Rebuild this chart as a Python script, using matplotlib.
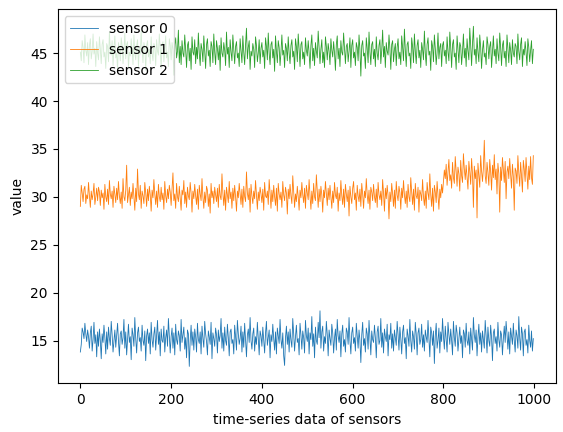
import numpy as np
import matplotlib
matplotlib.use("Agg")
import matplotlib.pyplot as plt

# sensor readings, one sample every 2 time steps
sensor0 = [
    13.8,14.6,16.3,15.9,15.2,16.8,15.7,14.9,16.1,15.4,14.2,15.8,16.5,13.9,15.1,16.9,14.7,15.6,13.3,15.9,14.4,16.2,15.0,13.1,15.7,
    14.8,16.6,15.3,13.6,15.9,14.1,16.4,15.2,14.5,17.0,15.6,13.8,15.0,16.1,14.3,15.5,16.8,14.9,13.4,15.7,16.0,14.6,15.3,17.2,14.2,
    15.9,13.5,15.1,16.7,14.8,15.4,13.0,16.3,15.6,14.4,17.4,15.2,13.7,15.8,16.4,14.9,15.3,13.9,16.6,15.0,14.5,16.0,12.9,15.5,16.2,
    14.7,15.8,13.6,16.9,15.1,14.3,15.7,16.4,14.0,15.5,17.1,14.6,15.9,13.4,16.2,15.0,14.8,16.5,13.8,15.3,16.1,14.4,17.3,15.6,13.7,
    15.4,16.3,14.2,15.8,13.5,16.7,15.1,14.6,16.0,15.5,13.9,17.2,14.8,15.6,16.4,14.1,15.3,13.2,16.1,15.7,12.3,15.0,16.6,14.5,15.9,
    14.0,16.2,15.4,13.8,16.8,15.1,14.7,15.9,13.6,16.5,15.2,14.3,17.0,15.7,14.9,13.5,16.0,15.4,14.6,16.9,13.1,15.8,15.2,14.4,16.3,
    15.6,13.7,16.1,14.9,15.5,17.3,14.2,15.8,13.9,16.4,15.0,14.5,16.7,15.3,13.4,15.9,16.2,14.7,15.1,13.6,16.6,15.4,14.0,17.1,15.7,
    14.6,15.2,16.5,13.8,15.9,14.3,16.8,15.1,13.3,15.6,16.2,14.8,17.4,15.0,14.1,15.7,16.3,13.9,15.4,14.6,16.9,15.2,13.5,16.0,15.5,
    14.4,16.4,15.0,13.7,15.8,17.0,14.5,15.3,16.1,13.2,15.6,14.9,16.7,15.2,14.0,15.9,13.6,16.3,15.5,14.7,17.2,15.1,14.2,15.8,13.4,
    12.4,15.3,16.5,14.6,15.9,13.8,16.2,15.0,14.3,17.3,15.7,13.9,15.4,16.6,14.8,15.2,13.5,16.8,15.6,14.1,16.0,15.3,13.7,17.1,15.5,
    14.9,16.3,13.6,15.8,15.1,17.5,14.4,15.7,13.2,16.4,15.0,14.6,16.9,15.3,18.1,14.2,15.9,16.5,13.9,15.4,14.7,17.0,15.6,13.4,16.1,
    15.2,14.5,16.7,15.8,13.7,15.3,16.2,14.0,17.2,15.5,14.8,16.0,13.3,15.7,16.6,14.4,15.1,13.8,16.3,15.9,14.6,17.4,15.0,13.6,15.8,
    16.4,14.7,15.3,13.9,16.8,15.5,14.2,16.1,15.0,12.7,15.6,16.9,14.5,15.2,13.8,16.3,15.7,14.1,17.1,15.4,13.5,16.0,15.1,14.8,16.6,
    15.3,13.2,15.9,16.5,14.6,15.0,17.3,14.3,15.8,13.7,16.2,15.4,14.9,16.7,13.4,15.6,15.1,16.8,14.2,15.7,13.9,16.1,15.3,14.5,17.0,
    15.6,14.0,16.4,15.2,13.6,15.9,16.6,14.7,15.3,13.1,16.2,15.5,14.4,17.2,15.0,13.8,16.0,15.4,14.1,16.9,15.7,13.5,15.8,16.3,14.6,
    15.1,16.7,14.3,15.6,13.9,16.1,15.4,14.8,17.1,15.2,13.3,16.4,15.8,14.5,16.0,12.6,15.5,16.8,14.2,15.0,16.3,13.7,15.9,14.9,17.3,
    15.4,14.1,16.5,15.1,13.8,16.9,15.6,14.6,16.2,15.0,13.5,17.0,15.3,14.4,16.6,15.8,13.9,15.2,16.4,14.7,15.5,13.2,16.1,15.7,14.3,
    16.8,15.0,14.5,15.9,13.6,16.3,15.2,14.0,17.4,15.6,14.8,16.1,13.4,15.3,16.7,14.6,15.8,13.8,16.0,15.1,14.2,17.1,15.5,13.7,16.4,
    15.0,14.4,16.6,15.3,12.9,15.8,16.2,14.7,15.4,13.9,16.9,15.1,14.3,16.0,15.6,13.5,15.2,16.5,14.8,17.0,15.7,14.1,15.9,13.6,16.3,
    15.4,14.6,16.8,15.0,13.8,16.1,15.5,14.2,17.5,15.3,14.0,16.4,15.7,13.4,15.9,16.2,14.5,15.1,13.7,16.6,15.0,14.3,16.0,13.9,15.2,
]

sensor1 = [
    29.0,31.2,30.4,29.5,30.8,31.1,29.3,30.2,29.8,31.5,30.1,28.9,30.6,29.7,30.3,31.4,29.2,30.0,30.9,29.6,31.0,30.5,29.1,30.7,29.9,
    30.4,28.7,31.3,30.0,29.5,30.8,29.2,31.7,30.3,29.8,30.6,28.9,31.1,30.2,29.4,30.9,29.7,31.6,30.1,29.3,30.5,28.8,31.9,30.0,29.6,
    30.7,33.3,29.4,30.2,31.0,29.1,30.5,29.8,31.4,30.0,28.6,30.9,29.5,32.9,30.3,29.7,31.2,28.8,30.6,30.1,29.3,31.5,30.4,29.0,30.8,
    29.6,31.1,30.2,28.5,30.7,29.9,31.8,30.3,29.2,30.6,28.9,31.3,30.0,29.5,31.0,29.7,30.4,28.7,31.6,30.1,29.4,30.8,29.8,31.2,30.5,
    29.1,30.9,32.5,29.6,30.3,28.8,31.4,30.0,29.5,31.1,29.9,28.6,30.7,30.2,31.7,29.3,30.5,28.9,31.0,30.1,29.7,31.5,30.4,28.4,30.6,
    29.8,31.3,30.1,29.2,30.8,28.7,31.2,30.3,29.6,31.9,30.0,28.8,30.5,29.4,31.1,30.7,29.0,30.3,28.3,31.4,29.9,30.6,29.3,31.0,30.2,
    29.5,30.9,28.9,31.3,30.1,29.7,32.4,30.4,29.1,30.7,28.6,31.0,30.2,29.4,31.6,29.8,30.5,28.8,30.9,29.6,31.2,30.0,28.5,30.6,29.9,
    31.4,30.3,29.2,30.8,28.9,31.1,30.0,29.5,32.6,30.4,29.7,30.9,28.4,31.3,30.1,29.3,30.6,29.8,31.7,30.2,28.7,30.5,29.6,31.0,30.3,
    29.4,30.8,28.6,31.5,30.1,29.9,30.6,29.2,31.8,30.4,28.8,30.7,29.5,31.2,30.0,29.1,30.9,28.5,31.4,30.3,29.7,30.5,28.9,31.6,30.2,
    29.6,31.0,30.4,28.2,30.8,29.8,31.3,30.1,29.3,32.2,30.6,28.9,30.3,29.5,31.1,30.0,28.6,30.7,29.9,31.5,30.2,29.4,30.9,28.8,31.2,
    30.4,29.7,31.8,30.1,28.7,30.6,29.3,31.4,30.0,29.6,32.3,30.5,28.9,30.8,29.5,31.1,30.2,28.4,30.7,29.9,31.6,30.3,29.1,30.9,29.7,
    31.2,30.0,28.8,30.6,29.4,31.5,30.2,29.8,31.0,28.5,30.4,29.6,31.7,30.1,29.2,30.8,28.9,31.3,30.3,29.5,30.7,28.0,31.1,30.0,29.3,
    30.9,31.6,29.7,30.4,28.6,31.2,30.1,29.5,30.8,29.0,31.4,30.3,28.8,30.6,29.9,31.9,30.2,29.3,30.7,28.7,31.0,30.5,29.6,31.3,30.0,
    29.4,30.8,28.9,31.5,30.2,29.7,30.6,29.1,31.8,30.4,28.5,30.9,29.8,31.2,30.1,27.7,30.5,29.5,31.4,30.3,29.0,30.7,28.8,31.6,30.2,
    29.6,31.1,30.4,28.7,30.9,29.9,31.7,30.2,29.3,30.6,28.9,31.3,30.0,29.5,32.0,30.5,29.2,30.8,28.6,31.4,30.1,29.8,31.0,28.4,30.7,
    30.3,29.6,31.8,30.0,29.1,30.6,28.8,31.5,30.4,29.7,32.4,30.2,29.0,30.9,28.5,31.2,30.5,29.4,31.6,30.1,28.7,30.8,29.9,31.3,30.4,
    31.6,32.8,31.9,33.4,31.2,32.5,33.9,31.7,32.3,30.9,33.6,32.0,31.4,34.2,32.7,31.1,33.1,32.4,30.6,33.8,32.2,31.5,34.5,32.9,31.8,
    33.3,32.1,30.8,33.7,32.6,31.3,34.0,32.4,28.9,33.2,31.9,32.8,27.8,33.5,32.3,31.0,34.3,32.7,31.6,33.0,35.9,32.2,31.4,33.6,32.5,
    31.2,33.9,32.6,30.7,33.3,32.0,34.4,31.8,32.9,30.3,33.5,32.4,28.4,33.1,31.7,34.1,32.8,31.5,33.7,29.8,32.6,33.2,31.9,34.0,32.3,
    30.9,33.4,32.1,28.6,33.0,32.7,31.4,34.3,32.5,31.1,33.6,32.2,30.5,33.8,32.9,31.6,34.1,32.4,30.8,33.2,31.8,34.2,32.0,31.3,34.3,
]

sensor2 = [
    45.1,44.2,46.3,45.6,44.0,46.9,45.3,44.7,46.1,43.8,45.8,46.5,44.4,45.2,47.0,44.9,45.5,43.6,46.2,45.0,44.3,46.7,45.4,43.9,45.9,
    46.4,44.6,45.1,43.4,46.0,45.7,44.1,47.2,45.3,44.8,46.3,43.7,45.6,46.8,44.5,45.0,43.3,46.1,45.4,44.2,46.6,45.8,43.9,45.2,47.1,
    44.4,45.9,46.2,43.5,45.1,44.7,46.5,45.3,43.8,46.9,45.0,44.3,45.7,46.4,43.6,45.5,44.9,47.3,45.2,44.0,46.1,45.6,43.2,45.8,46.3,
    44.6,45.4,43.9,46.7,45.0,44.2,46.0,45.7,43.7,46.4,45.2,44.8,47.0,45.5,43.4,45.9,46.2,44.1,45.3,46.8,44.5,45.1,43.6,46.5,45.8,
    44.3,46.1,45.4,42.7,45.9,46.6,44.5,45.2,47.4,44.0,45.7,43.8,46.3,45.0,44.6,46.9,45.3,43.5,45.8,46.2,44.2,45.5,43.3,46.7,45.1,
    44.8,46.4,43.9,45.6,44.4,47.1,45.0,43.7,46.0,45.4,44.1,46.8,45.2,43.4,45.9,46.5,44.7,45.3,43.6,46.2,45.7,44.0,47.0,45.1,43.8,
    46.3,45.5,44.3,45.8,43.2,46.6,45.0,44.6,46.1,45.3,43.7,47.2,44.9,45.6,43.5,46.4,45.1,44.2,46.9,45.4,43.9,45.7,46.2,44.5,45.0,
    43.6,46.5,45.3,44.0,46.8,45.1,43.8,45.9,47.6,44.4,45.6,46.3,43.3,45.2,44.7,46.0,45.4,43.5,46.7,45.8,44.1,45.0,46.4,43.9,45.5,
    46.1,44.6,45.3,43.4,46.6,45.7,44.3,47.1,45.0,43.8,45.9,46.2,44.5,45.4,43.1,46.8,45.2,44.0,46.3,45.6,43.7,45.1,46.9,44.8,45.3,
    43.5,46.0,45.5,44.2,46.7,45.0,43.9,45.8,46.4,44.6,45.2,43.3,46.5,45.7,44.1,47.0,45.4,43.6,45.9,46.2,44.4,45.1,43.8,46.6,45.3,
    44.7,46.3,45.0,43.4,45.8,46.9,44.2,45.5,43.7,46.1,45.2,44.5,47.3,45.6,43.9,45.4,46.4,44.0,45.1,43.5,46.7,45.7,44.3,46.0,45.2,
    43.8,46.5,45.3,44.6,46.2,45.0,43.2,45.9,46.8,44.4,45.5,43.6,46.3,45.1,44.8,47.1,45.4,43.9,45.7,46.0,44.1,45.2,46.6,43.5,45.8,
    46.4,44.5,45.1,43.7,46.1,45.6,44.2,46.9,45.3,42.6,45.8,46.3,44.7,45.0,43.4,46.6,45.5,44.0,47.2,45.2,43.8,45.9,46.2,44.4,45.4,
    43.6,46.7,45.0,44.3,45.8,46.4,43.9,45.3,47.4,44.6,45.7,43.5,46.1,45.2,44.8,46.9,45.5,43.3,45.9,46.3,44.1,45.4,46.0,43.7,45.6,
    46.5,44.4,45.1,43.8,46.8,45.6,44.2,47.5,45.3,43.6,45.9,46.2,44.7,45.0,43.4,46.6,45.7,44.0,47.0,45.2,43.9,45.8,46.4,44.5,45.3,
    43.5,46.1,45.4,44.3,47.3,45.0,43.7,45.9,46.6,44.8,45.2,43.2,46.3,45.7,44.1,46.9,45.5,43.8,45.1,47.1,44.4,45.6,46.0,43.6,45.8,
    46.2,44.7,45.3,43.9,46.7,45.1,44.2,47.2,45.6,43.5,45.9,46.4,44.6,45.0,43.3,46.8,45.4,44.0,46.1,45.7,43.8,45.2,47.0,44.5,45.5,
    43.6,46.5,45.2,44.3,47.6,45.8,43.7,46.0,47.8,44.8,45.4,43.9,46.6,45.1,44.1,46.9,45.6,43.4,45.3,46.3,44.6,45.0,43.8,46.7,45.9,
    44.4,45.7,46.2,43.5,45.1,46.8,44.7,45.4,43.9,46.5,45.0,44.2,47.1,45.6,43.7,45.8,46.3,44.5,45.2,43.6,46.9,45.5,44.0,46.1,45.3,
    43.8,46.4,45.0,44.6,46.0,45.7,43.9,47.0,45.2,44.3,45.9,46.6,43.6,45.4,44.8,46.2,45.1,43.7,46.5,45.6,44.1,45.3,46.3,43.9,45.4,
]

labels = ["sensor 0", "sensor 1", "sensor 2"]
series = [sensor0, sensor1, sensor2]

t = np.arange(len(sensor0)) * 2

fig = plt.figure(figsize=(5.63, 4.32), dpi=100)
ax = fig.add_axes([0.1025, 0.1125, 0.885, 0.866])

for vals, lab in zip(series, labels):
    ax.plot(t, vals, linewidth=0.6, label=lab)

ax.set_xlabel("time-series data of sensors")
ax.set_ylabel("value")
ax.legend(loc="upper left")

fig.savefig("out.png", dpi=100)
